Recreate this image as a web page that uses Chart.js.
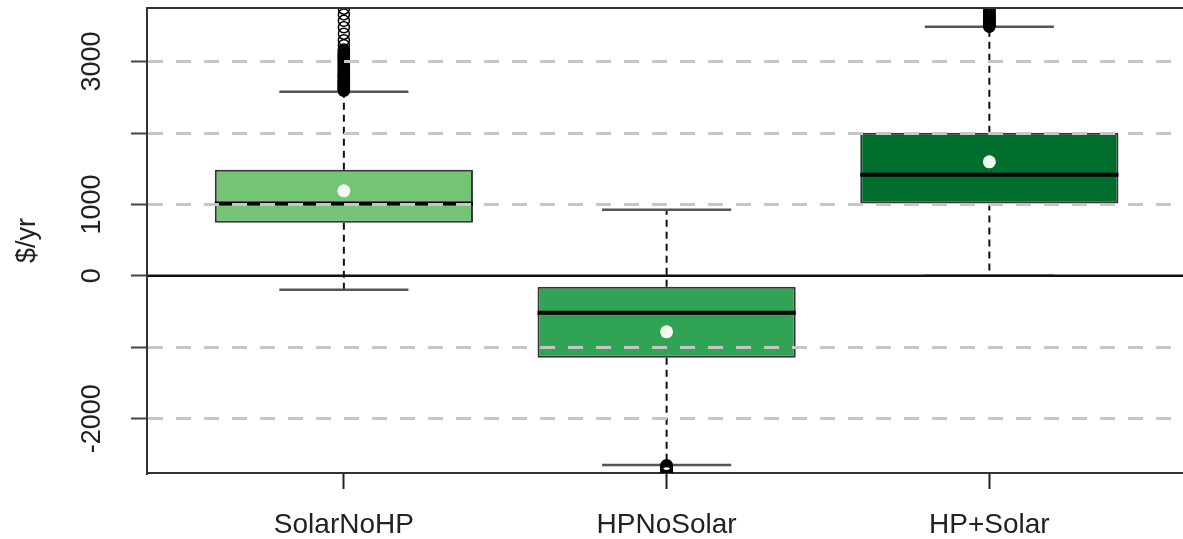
<!DOCTYPE html>
<html>
<head>
<meta charset="utf-8">
<script src="https://cdn.jsdelivr.net/npm/chart.js@4/dist/chart.umd.min.js"></script>
<style>
  html, body { margin: 0; padding: 0; background: #fff; overflow: hidden; }
  #wrap { width: 1183px; height: 539px; position: relative; }
</style>
</head>
<body>
<div id="wrap"><canvas id="boxChart"></canvas></div>
<script>
// Box statistics ($/yr)
const categories = ["SolarNoHP", "HPNoSolar", "HP+Solar"];
const boxColors = ["#74c476", "#31a354", "#006d2c"];
const q1 = [742, -1148, 1012];
const q3 = [1485, -154, 2005];
const medians = [1012, -518, 1415];
const means = [1190, -784, 1597];
const whiskerLow = [-196, -2647, 0];
const whiskerHigh = [2577, 924, 3487];

// outliers, per group (dense where the reference shows a solid column)
const outliersSolarNoHP = [2590, 2600, 2610, 2620, 2630, 2640, 2650, 2660, 2670, 2680, 2690, 2700,
  2712, 2724, 2736, 2748, 2760, 2772, 2784, 2796, 2808, 2820, 2834, 2848, 2862, 2876, 2890, 2904,
  2918, 2932, 2946, 2960, 2975, 2990, 3005, 3020, 3035, 3050, 3065, 3080, 3095, 3110, 3125, 3140,
  3155, 3170, 3230, 3300, 3390, 3480, 3570, 3660, 3740];
const outliersHPNoSolar = [-2652, -2662, -2672, -2682, -2692, -2702, -2715, -2730, -2745];
const outliersHPSolar = [3488, 3498, 3508, 3518, 3528, 3538, 3548, 3558, 3570, 3582, 3594, 3606,
  3618, 3630, 3645, 3660, 3675, 3690, 3705, 3720, 3740, 3760];

const yTicks = [-2000, -1000, 0, 1000, 2000, 3000];
const yTickLabels = ["-2000", "", "0", "1000", "", "3000"];
const yMin = -2760;
const yMax = 3750;
const xMin = 0.39;
const xMax = 3.6;

const font = "'Liberation Sans', Arial, sans-serif";
const ink = "#222";
const frame = "#333";

const BOX_HALF = 0.4;
const CAP_HALF = 0.2;
const groupX = categories.map((c, i) => i + 1);

// line segments separated by a null point so the line breaks between them
const segs = (fn) => groupX.flatMap((x, i) => fn(x, i).flatMap((s) => [...s, { x, y: null }]));

const medianData = segs((x, i) => [[{ x: x - BOX_HALF, y: medians[i] }, { x: x + BOX_HALF, y: medians[i] }]]);
const whiskerData = segs((x, i) => [
  [{ x, y: q3[i] }, { x, y: whiskerHigh[i] }],
  [{ x, y: q1[i] }, { x, y: whiskerLow[i] }]
]);
const capData = segs((x, i) => [
  [{ x: x - CAP_HALF, y: whiskerHigh[i] }, { x: x + CAP_HALF, y: whiskerHigh[i] }],
  [{ x: x - CAP_HALF, y: whiskerLow[i] }, { x: x + CAP_HALF, y: whiskerLow[i] }]
]);
const outlierData = [
  ...outliersSolarNoHP.map((y) => ({ x: 1, y })),
  ...outliersHPNoSolar.map((y) => ({ x: 2, y })),
  ...outliersHPSolar.map((y) => ({ x: 3, y }))
];

const lineSet = (data, color, width, dash, order) => ({
  type: "line",
  data,
  borderColor: color,
  borderWidth: width,
  borderDash: dash,
  pointRadius: 0,
  pointHoverRadius: 0,
  spanGaps: false,
  fill: false,
  tension: 0,
  clip: 0,
  order
});

const frameTop = {
  id: "frameTop",
  afterDraw(chart) {
    const { ctx, chartArea } = chart;
    ctx.save();
    ctx.strokeStyle = frame;
    ctx.lineWidth = 2;
    ctx.beginPath();
    ctx.moveTo(chartArea.left, chartArea.top);
    ctx.lineTo(chartArea.right, chartArea.top);
    ctx.stroke();
    ctx.restore();
  }
};

new Chart(document.getElementById("boxChart"), {
  type: "bar",
  data: {
    datasets: [
      lineSet(whiskerData, "#111", 2, [7, 5], 6),
      lineSet(capData, "#555", 2.5, [], 5),
      {
        type: "bar",
        data: groupX.map((x, i) => ({ x, y: [q1[i], q3[i]] })),
        backgroundColor: boxColors,
        borderColor: frame,
        borderWidth: 2,
        borderSkipped: false,
        barPercentage: 0.8,
        categoryPercentage: 1,
        order: 4
      },
      lineSet(medianData, "#000", 4, [], 3),
      {
        type: "line",
        data: outlierData,
        showLine: false,
        pointStyle: "circle",
        pointRadius: 5.5,
        pointHoverRadius: 5.5,
        pointBackgroundColor: "rgba(0,0,0,0)",
        pointBorderColor: "#000",
        pointBorderWidth: 1.5,
        clip: 0,
        order: 2
      },
      {
        type: "line",
        data: groupX.map((x, i) => ({ x, y: means[i] })),
        showLine: false,
        pointRadius: 6.5,
        pointHoverRadius: 6.5,
        pointBackgroundColor: "#f2f8f0",
        pointBorderWidth: 0,
        clip: 0,
        order: 1
      },
      lineSet([{ x: xMin, y: 0 }, { x: xMax, y: 0 }], "#111", 2.5, [], 0)
    ]
  },
  options: {
    responsive: true,
    maintainAspectRatio: false,
    animation: false,
    events: [],
    layout: { autoPadding: false, padding: { top: 8, right: 0, bottom: 0, left: 0 } },
    plugins: { legend: { display: false }, tooltip: { enabled: false } },
    scales: {
      x: {
        type: "linear",
        min: xMin,
        max: xMax,
        offset: false,
        afterBuildTicks: (s) => { s.ticks = groupX.map((v) => ({ value: v })); },
        afterFit: (s) => { s.height = 66; s.paddingLeft = 0; s.paddingRight = 0; },
        grid: { offset: false, drawOnChartArea: false, drawTicks: true, tickLength: 16, tickColor: ink, tickWidth: 2 },
        border: { display: true, color: frame, width: 2 },
        ticks: {
          autoSkip: false,
          maxRotation: 0,
          padding: 19,
          color: ink,
          font: { family: font, size: 28 },
          callback: (v) => categories[v - 1]
        }
      },
      y: {
        type: "linear",
        min: yMin,
        max: yMax,
        afterBuildTicks: (s) => { s.ticks = yTicks.map((v) => ({ value: v })); },
        afterFit: (s) => { s.width = 147; s.paddingTop = 0; s.paddingBottom = 0; },
        grid: {
          z: 1,
          color: (c) => (c.tick && c.tick.value === 0 ? "rgba(0,0,0,0)" : "#c6c6c6"),
          lineWidth: 3,
          drawTicks: true,
          tickLength: 16,
          tickColor: "#444",
          tickWidth: 2
        },
        border: { display: true, color: frame, width: 2, dash: [15, 13], z: 2 },
        ticks: {
          autoSkip: false,
          minRotation: 90,
          maxRotation: 90,
          crossAlign: "center",
          padding: 4,
          color: ink,
          font: { family: font, size: 27 },
          callback: (v, i) => yTickLabels[i]
        },
        title: {
          display: true,
          text: "$/yr",
          color: ink,
          font: { family: font, size: 27 },
          padding: { top: 11, bottom: 0 }
        }
      }
    }
  },
  plugins: [frameTop]
});
</script>
</body>
</html>
